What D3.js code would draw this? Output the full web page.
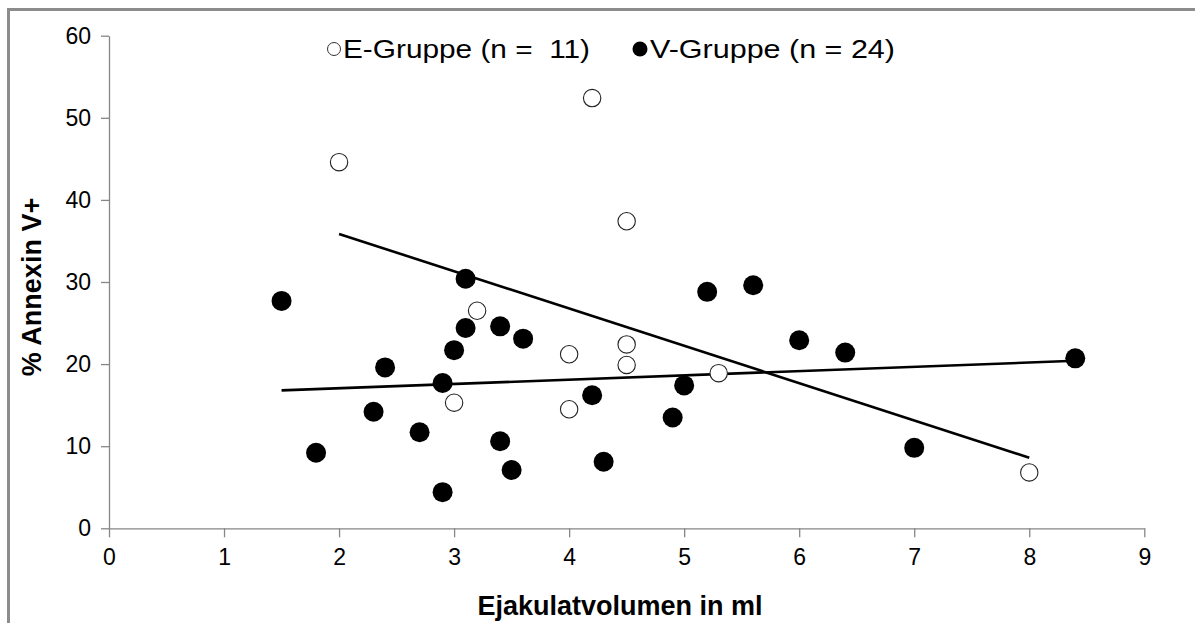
<!DOCTYPE html>
<html>
<head>
<meta charset="utf-8">
<script src="https://cdn.jsdelivr.net/npm/d3@7"></script>
<style>
  html, body { margin: 0; padding: 0; background: #fff; }
  svg { display: block; }
  text { font-family: "Liberation Sans", Arial, sans-serif; fill: #000; }
</style>
</head>
<body>
<svg id="chart" width="1195" height="623"></svg>
<script>
// E-Gruppe (open markers)
const eVolume = [2.0, 4.2, 4.5, 3.2, 4.0, 4.5, 4.5, 5.3, 3.0, 4.0, 8.0];
const eAnnexin = [44.6, 52.4, 37.4, 26.5, 21.2, 22.4, 19.9, 18.9, 15.3, 14.5, 6.8];

// V-Gruppe (filled markers)
const vVolume = [1.5, 1.8, 2.3, 2.4, 2.7, 2.9, 2.9, 3.0, 3.1, 3.1, 3.4, 3.4,
                 3.5, 3.6, 4.2, 4.3, 4.9, 5.0, 5.2, 5.6, 6.0, 6.4, 7.0, 8.4];
const vAnnexin = [27.7, 9.2, 14.2, 19.6, 11.7, 17.7, 4.4, 21.7, 30.4, 24.4, 24.6, 10.6,
                  7.1, 23.1, 16.2, 8.1, 13.5, 17.4, 28.8, 29.6, 22.9, 21.4, 9.8, 20.7];

// Linear trend lines, start and end of each group
const eTrendX = [2.0, 8.0];
const eTrendY = [35.85, 8.6];
const vTrendX = [1.5, 8.4];
const vTrendY = [16.8, 20.4];

const xTicks = [0, 1, 2, 3, 4, 5, 6, 7, 8, 9];
const yTicks = [0, 10, 20, 30, 40, 50, 60];

const legendLabels = ["E-Gruppe (n =  11)", "V-Gruppe (n = 24)"];
const xTitle = "Ejakulatvolumen in ml";
const yTitle = "% Annexin V+";

const svg = d3.select("#chart");

// outer frame
svg.append("rect")
  .attr("x", 8.5).attr("y", 9.5)
  .attr("width", 1400).attr("height", 1000)
  .attr("fill", "none")
  .attr("stroke", "#8c8c8c")
  .attr("stroke-width", 3);

const x = d3.scaleLinear().domain([0, 9]).range([109, 1144.3]);
const y = d3.scaleLinear().domain([0, 60]).range([528.3, 35.7]);

// y axis
const yAxis = svg.append("g")
  .attr("transform", `translate(${x(0)},0)`)
  .call(d3.axisLeft(y).tickValues(yTicks).tickSize(8).tickPadding(10).tickSizeOuter(0));
// x axis
const xAxis = svg.append("g")
  .attr("transform", `translate(0,${y(0)})`)
  .call(d3.axisBottom(x).tickValues(xTicks).tickSize(9).tickPadding(11).tickSizeOuter(0));

[xAxis, yAxis].forEach(g => {
  g.select(".domain").attr("stroke", "#868686").attr("stroke-width", 1.3);
  g.selectAll(".tick line").attr("stroke", "#868686").attr("stroke-width", 1.3);
  g.selectAll(".tick text")
    .attr("font-family", "Liberation Sans, Arial, sans-serif")
    .attr("font-size", 23)
    .attr("fill", "#000");
});

// trend lines
const line = d3.line().x(d => x(d[0])).y(d => y(d[1]));
svg.append("path")
  .datum(d3.zip(eTrendX, eTrendY))
  .attr("d", line)
  .attr("fill", "none").attr("stroke", "#000").attr("stroke-width", 2.6);
svg.append("path")
  .datum(d3.zip(vTrendX, vTrendY))
  .attr("d", line)
  .attr("fill", "none").attr("stroke", "#000").attr("stroke-width", 2.6);

// markers
svg.append("g").selectAll("circle")
  .data(d3.zip(vVolume, vAnnexin))
  .join("circle")
  .attr("cx", d => x(d[0])).attr("cy", d => y(d[1]))
  .attr("r", 10)
  .attr("fill", "#000");

svg.append("g").selectAll("circle")
  .data(d3.zip(eVolume, eAnnexin))
  .join("circle")
  .attr("cx", d => x(d[0])).attr("cy", d => y(d[1]))
  .attr("r", 8.7)
  .attr("fill", "#fff")
  .attr("stroke", "#222")
  .attr("stroke-width", 1.1);

// legend
const legend = svg.append("g");
legend.append("circle").attr("cx", 334).attr("cy", 49).attr("r", 6.5)
  .attr("fill", "#fff").attr("stroke", "#333").attr("stroke-width", 1);
legend.append("text").attr("x", 343).attr("y", 58)
  .attr("font-size", 26).style("white-space", "pre")
  .attr("textLength", 247).attr("lengthAdjust", "spacingAndGlyphs")
  .text(legendLabels[0]);
legend.append("circle").attr("cx", 640).attr("cy", 49).attr("r", 7.5)
  .attr("fill", "#000");
legend.append("text").attr("x", 650).attr("y", 58)
  .attr("font-size", 26).style("white-space", "pre")
  .attr("textLength", 245).attr("lengthAdjust", "spacingAndGlyphs")
  .text(legendLabels[1]);

// axis titles
svg.append("text")
  .attr("x", 620).attr("y", 615)
  .attr("text-anchor", "middle")
  .attr("font-size", 27).attr("font-weight", "bold")
  .text(xTitle);

svg.append("text")
  .attr("transform", "translate(41,287) rotate(-90)")
  .attr("text-anchor", "middle")
  .attr("font-size", 27).attr("font-weight", "bold")
  .text(yTitle);
</script>
</body>
</html>
